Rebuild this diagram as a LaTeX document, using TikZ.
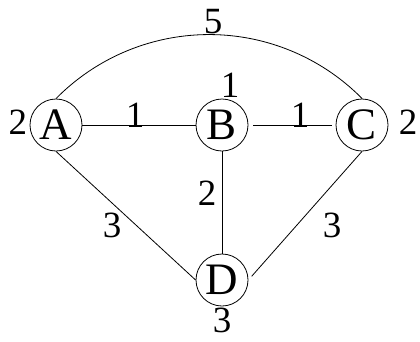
\documentclass[tikz,border=0pt]{standalone}
\usepackage{fontspec}
\setmainfont{Liberation Serif}
\begin{document}
\begin{tikzpicture}[x=1pt,y=1pt,
  vtx/.style={draw,circle,minimum size=52pt,inner sep=0pt,line width=0.8pt,font=\fontsize{45}{45}\selectfont},
  wlab/.style={inner sep=0pt,font=\fontsize{37}{37}\selectfont},
  edge/.style={line width=0.8pt}]
\useasboundingbox (0,0) rectangle (420,-341);
\node[vtx] (A) at (56,-125) {A};
\node[vtx] (B) at (222,-125) {B};
\node[vtx] (C) at (362,-125) {C};
\node[vtx] (D) at (222,-280) {D};
\draw[edge] (A) -- (B);
\draw[edge,shorten <=5pt,shorten >=4pt] (B) -- (C);
\draw[edge] (B) -- (D);
\draw[edge] (A.south) -- (D.west);
\draw[edge,shorten >=5pt] (C.south) -- (D.east);
\draw[edge] (A.north) arc[start angle=135.4,end angle=44.6,radius=215pt];
\node[wlab] (w5) at (213,-22) {5};
\node[wlab] (lA) at (18,-122) {2};
\node[wlab] (lAB) at (135,-115) {1};
\node[wlab] (lB) at (230,-85) {1};
\node[wlab] (lBC) at (300,-115) {1};
\node[wlab] (lC) at (408,-122) {2};
\node[wlab] (lBD) at (207,-193) {2};
\node[wlab] (lAD) at (112,-225) {3};
\node[wlab] (lCD) at (332,-225) {3};
\node[wlab] (lD) at (222,-320) {3};
\end{tikzpicture}
\end{document}
